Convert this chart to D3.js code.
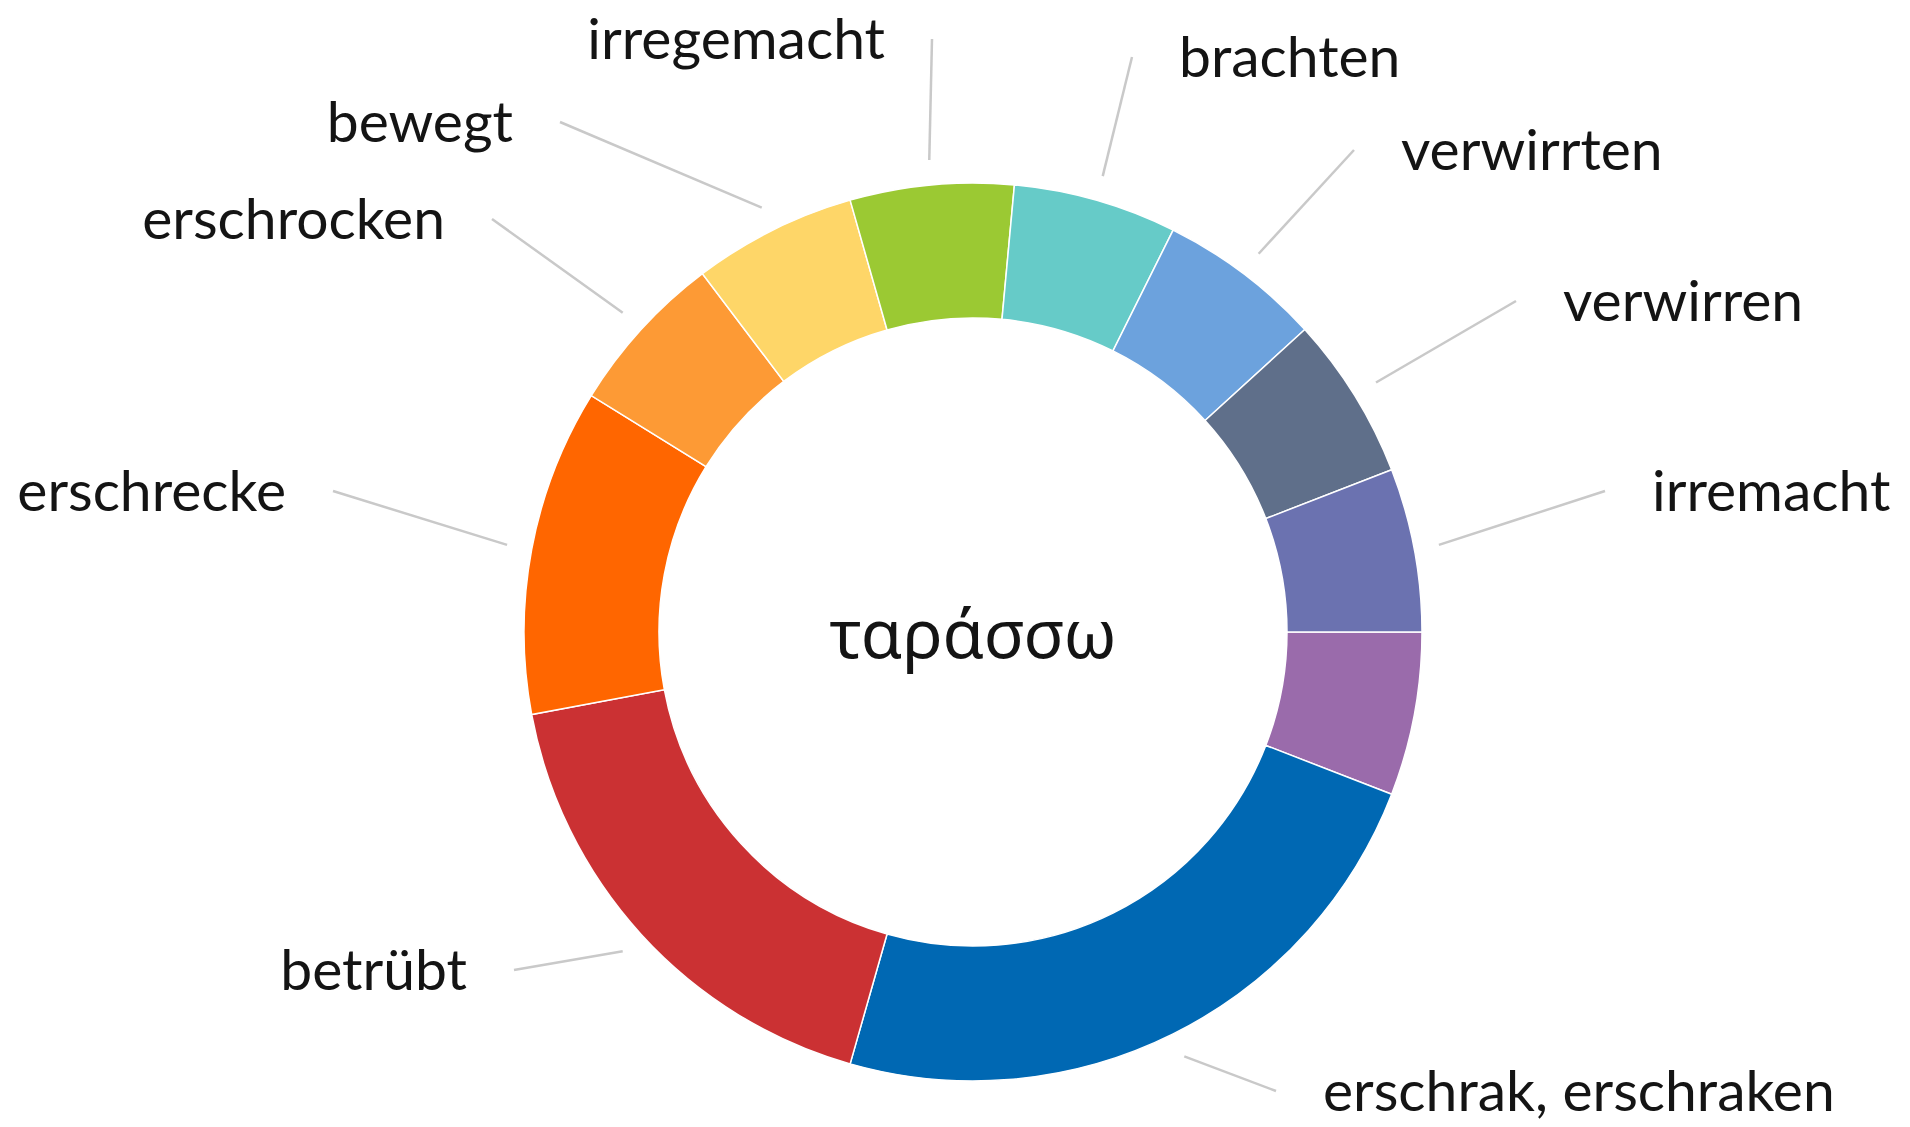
<!DOCTYPE html>
<html lang="de">
<head>
<meta charset="utf-8">
<title>ταράσσω</title>
<style>
body {
  margin: 0;
  background: #fff;
}
svg {
  display: block;
}
.label {
  font-family: Lato, "Noto Sans", sans-serif;
  font-size: 57px;
  fill: #141414;
}
.leader {
  stroke: #c9c9c9;
  stroke-width: 2.5;
  fill: none;
}
.slice {
  stroke: #fff;
  stroke-width: 1.5;
}
.center-word {
  font-family: "Noto Sans", sans-serif;
  font-size: 67px;
  fill: #141414;
}
</style>
</head>
<body>
<svg></svg>
<script src="https://cdn.jsdelivr.net/npm/d3@7"></script>
<script>

// slices, clockwise from 3 o'clock
const words = ["", "erschrak, erschraken", "betrübt", "erschrecke", "erschrocken", "bewegt",
               "irregemacht", "brachten", "verwirrten", "verwirren", "irremacht"];
const counts = [1, 4, 3, 2, 1, 1, 1, 1, 1, 1, 1];
const colors = ["#9a6bab", "#0068b3", "#cb3133", "#ff6600", "#fd9a35", "#fed668",
                "#9bc933", "#66cbc8", "#6ca2dd", "#5f6f8a", "#6b72b0"];
const title = "ταράσσω";

// where each leader line ends, relative to the centre (layout only)
const labelEnds = [null, [303, 459], [-459, 338], [-640, -141], [-481, -413], [-413, -510],
                   [-41, -593], [159, -575], [381, -482], [543, -331], [632, -141]];

let width = 1910,
    height = 1127,
    cx = 973,
    cy = 632,
    outer = 449,
    inner = 314,
    leadStart = 474,
    gap = 47;

let svg = d3.select("svg")
    .attr("width", width)
    .attr("height", height);

let g = svg.append("g")
    .attr("transform", "translate(" + cx + "," + cy + ")");

let pie = d3.pie()
    .sort(null)
    .startAngle(Math.PI / 2)
    .endAngle(Math.PI / 2 + 2 * Math.PI);

let arc = d3.arc()
    .innerRadius(inner)
    .outerRadius(outer);

let color = d3.scaleOrdinal().domain(d3.range(words.length)).range(colors);

let arcs = pie(counts);

g.selectAll(".slice")
    .data(arcs)
  .enter().append("path")
    .attr("class", "slice")
    .attr("d", arc)
    .style("fill", function(d, i) { return color(i); });

let labelled = arcs.filter(function(d, i) { return words[i] !== ""; });

g.selectAll(".leader")
    .data(labelled)
  .enter().append("line")
    .attr("class", "leader")
    .attr("x1", function(d) { return leadStart * Math.sin((d.startAngle + d.endAngle) / 2); })
    .attr("y1", function(d) { return -leadStart * Math.cos((d.startAngle + d.endAngle) / 2); })
    .attr("x2", function(d) { return labelEnds[d.index][0]; })
    .attr("y2", function(d) { return labelEnds[d.index][1]; });

g.selectAll(".label")
    .data(labelled)
  .enter().append("text")
    .attr("class", "label")
    .attr("x", function(d) {
      let e = labelEnds[d.index];
      return e[0] > 0 ? e[0] + gap : e[0] - gap;
    })
    .attr("y", function(d) { return labelEnds[d.index][1]; })
    .attr("dy", "0.35em")
    .style("text-anchor", function(d) { return labelEnds[d.index][0] > 0 ? "start" : "end"; })
    .text(function(d) { return words[d.index]; });

g.append("text")
    .attr("class", "center-word")
    .attr("x", 0)
    .attr("y", 26)
    .style("text-anchor", "middle")
    .text(title);

</script>
</body>
</html>
